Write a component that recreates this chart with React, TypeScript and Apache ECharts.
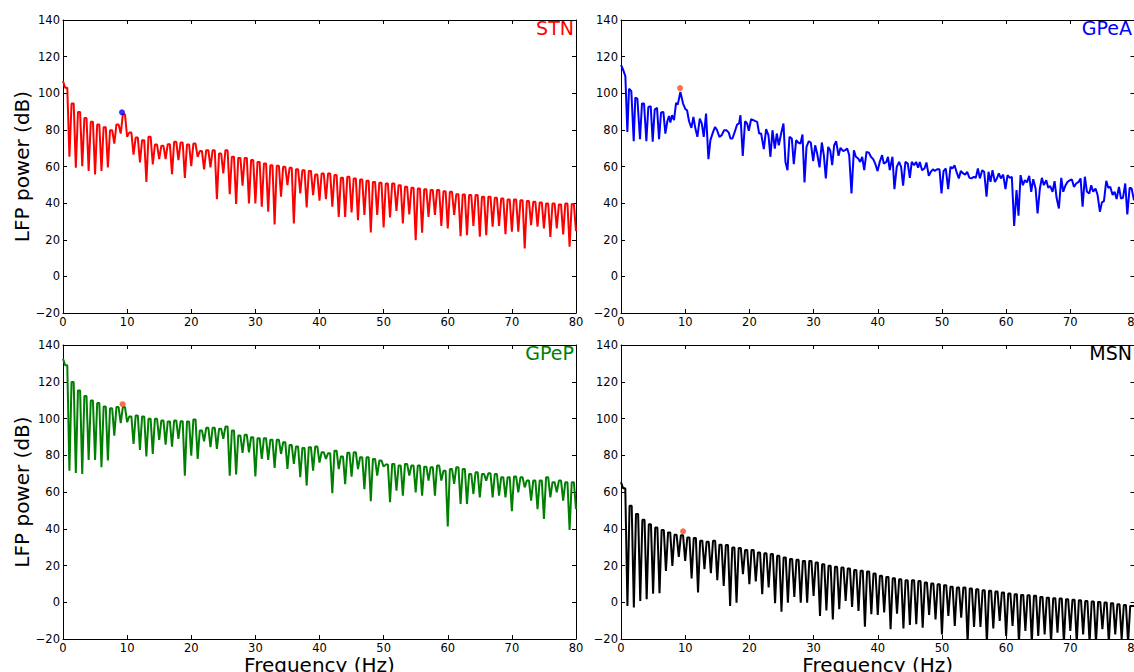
import React, { useEffect, useRef } from "react";
import * as echarts from "echarts";

// ---------- data ----------
// Frequency axis ticks
const freqTicks = [0, 10, 20, 30, 40, 50, 60, 70, 80];
const powerTicks = [-20, 0, 20, 40, 60, 80, 100, 120, 140];

// STN: power at each integer Hz (troughs), and at the in-between samples (crests)
const stnDips = [106.7, 65.3, 59.3, 60.2, 57.6, 55.6, 57.6, 59.5, 72.5, 78, 76.2, 66.5, 62.2, 51.6, 61.1, 64, 64, 55.8, 63.5, 53.8, 60.2,
  65.3, 58.4, 59.5, 42.2, 56.2, 44.9, 39.5, 49.5, 39.8, 39.8, 38, 35.3, 28.4, 43.5, 49.8, 28.9, 45.3, 37.6, 44.4, 41.4,
  42.2, 38, 32.5, 32.5, 34.9, 30.7, 33.5, 24, 33.5, 26.7, 32.2, 35.8, 28.9, 33.8, 19.8, 23.8, 32.5, 33.5, 27.6, 26.2,
  33.5, 22, 22.5, 27.6, 21.6, 22.5, 27.1, 27.6, 23.1, 24.4, 24.4, 15.3, 28, 27.1, 26.2, 21.6, 26.2, 22.9, 16.2, 24.7];
const stnPeaks = [103, 94.4, 89.8, 86.5, 84.4, 82.9, 81.5, 79.8, 83, 88.5, 78.5, 75.8, 74.4, 76.2, 72, 71.3, 72.2, 73.5, 73.1, 72,
  72.5, 68.4, 68.9, 68.9, 67.1, 68.9, 65.3, 64.7, 64.7, 63.5, 62.5, 61.6, 60.7, 60.4, 59.8, 59.3, 58.5, 58, 57.6, 55.6,
  56.2, 56.2, 55.3, 53.8, 54.4, 53.5, 52.9, 52.2, 51.6, 51.1, 50.7, 50.7, 49.8, 48.9, 48.4, 48, 47.6, 47.1, 47.1, 46.5,
  46.2, 44.9, 44.7, 44.4, 44.4, 43.5, 43.5, 42.9, 42.5, 42, 42, 41.6, 41.1, 40.7, 40.4, 39.8, 39.8, 39.3, 39.8, 39.5];

// GPeP
const gpepDips = [132.5, 71.6, 70.4, 69.8, 77.5, 77.5, 73.5, 77.1, 90.7, 97.5, 98, 86.2, 82.9, 79.3, 80.7, 88.4, 85.8, 84.7, 88.9, 68.9, 79.8,
  78, 87.6, 84.4, 83.5, 88.9, 68.9, 69.5, 81.3, 81.6, 68.4, 78, 77.5, 73.1, 80.7, 72.5, 75.3, 68, 63.5, 71.6, 76,
  78, 59.3, 72.5, 64.2, 68.4, 72.5, 61.6, 55, 68.9, 73.8, 54.4, 60.7, 58, 68.9, 59.8, 58, 66.2, 58, 66.2, 41.3,
  64.4, 53.5, 53.5, 58.9, 57.1, 66.2, 57.1, 58, 57.1, 49.5, 59.8, 62.5, 55.3, 50.7, 45.3, 57.1, 59.8, 55.3, 39.3, 50.7];
const gpepPeaks = [129, 119.8, 115.3, 112.2, 109.8, 108.4, 106.5, 105.6, 106.2, 106.2, 101.1, 101.6, 101.1, 99.8, 99.8, 98.9, 98.4, 98.9, 98.5, 98.4,
  99.5, 93.5, 94.9, 94.9, 94.4, 95.6, 93.5, 90.7, 91.1, 89.8, 89.3, 89.3, 88.5, 88.4, 87.1, 85.6, 84.7, 84, 84.4, 84.7,
  81.6, 81.1, 82.5, 79.3, 81.3, 81.6, 78.9, 78.9, 78, 77.1, 74.9, 75.3, 74.4, 75.3, 74.4, 74.4, 73.8, 73.5, 74.4, 71.6,
  72.5, 73.5, 72.5, 69.8, 70.7, 69.8, 70.2, 69.8, 68, 68, 68.4, 68, 66.2, 66.2, 66.2, 68, 65.3, 66.2, 65.3, 65.3];

// MSN
const msnDips = [65.3, -2, -2.9, 0.7, 1.6, 4.7, 4.9, 17.1, 19.8, 24.7, 22.5, 12.9, 5.3, 18, 15.8, 12, 8.9, -2, -0.2, 15.3, 9.8,
  11.3, 4.4, 8, -0.5, -5.1, -0.2, 2.9, -0.2, -0.2, 3.5, -7.5, -4.4, -9.3, -3.8, 0.7, -2.5, -4.7, -13.3, -6.5, -6.9,
  -5.6, -14.7, -6.2, -14.2, -12.4, -12, -13.8, -6.9, -9.3, -17.5, -7.5, -12.9, -8.4, -22, -13.5, -13.5, -22, -14.2, -10.2, -18.4,
  -12.9, -22, -15.6, -22, -18.4, -17.5, -22, -16.5, -22, -15.6, -22, -17.5, -22, -22, -14.7, -22, -17.5, -20.2, -22, -2];
const msnPeaks = [62, 52.5, 48, 44.9, 42.5, 40.7, 39.3, 38, 36.7, 36.5, 35.3, 34.9, 33.5, 32.9, 33.5, 31.3, 31.1, 29.8, 29.5, 28.4,
  28.4, 27.1, 26.7, 26.2, 25.3, 24.4, 23.5, 23.1, 22.5, 22.5, 21.6, 20.7, 19.8, 19.3, 18.9, 18.4, 17.5, 17.1, 16.7, 15.6,
  14.4, 13.8, 13.1, 12.5, 12, 12, 11.6, 10.7, 10.2, 9.8, 9.3, 8.5, 8, 8, 7.5, 7.1, 6.5, 6.2, 5.8, 5.3,
  4.7, 4.4, 4, 3.8, 3.5, 2.9, 2.5, 2.2, 2, 1.6, 1.3, 1.1, 0.7, 0.4, 0.2, -0.2, -0.5, -1.1, -1.5, -2];

// GPeA: irregular spectrum, frequency / power samples
const gpeaFreq = [0, 0.31, 0.68, 0.99, 1.25, 1.61, 1.98, 2.23, 2.55, 2.96, 3.27, 3.59, 3.95, 4.26, 4.63, 4.94, 5.25, 5.61, 5.93, 6.24,
  6.6, 6.91, 7.22, 7.48, 7.69, 7.95, 8.26, 8.58, 8.84, 9.25, 9.67, 10.03, 10.29, 10.6, 10.97, 11.28, 11.59, 11.9, 12.27, 12.58,
  12.89, 13.25, 13.62, 13.93, 14.35, 14.66, 14.97, 15.33, 15.7, 16.06, 16.42, 16.79, 17.05, 17.36, 17.72, 18.09, 18.4, 18.61, 18.97, 19.33,
  19.65, 19.91, 20.27, 20.63, 20.93, 21.21, 21.52, 21.83, 22.25, 22.61, 22.97, 23.28, 23.6, 23.96, 24.27, 24.58, 24.95, 25.31, 25.62, 25.94,
  26.25, 26.61, 26.92, 27.29, 27.6, 27.96, 28.27, 28.59, 28.9, 29.26, 29.57, 29.94, 30.25, 30.56, 30.93, 31.29, 31.6, 31.91, 32.28, 32.59,
  32.9, 33.21, 33.52, 33.89, 34.2, 34.62, 34.93, 35.24, 35.55, 35.91, 36.28, 36.59, 36.95, 37.27, 37.58, 37.89, 38.25, 38.62, 38.93, 39.29,
  39.6, 39.97, 40.31, 40.68, 40.94, 41.35, 41.6, 41.87, 42.29, 42.6, 42.96, 43.33, 43.64, 43.95, 44.31, 44.68, 45.0, 45.3, 45.66, 45.97,
  46.29, 46.55, 46.91, 47.28, 47.59, 47.95, 48.27, 48.58, 48.89, 49.25, 49.62, 49.93, 50.25, 50.6, 50.97, 51.33, 51.64, 51.96, 52.27, 52.63,
  52.94, 53.31, 53.62, 53.93, 54.29, 54.6, 54.97, 55.28, 55.6, 55.91, 56.27, 56.58, 56.95, 57.26, 57.57, 57.88, 58.24, 58.56, 58.87, 59.18,
  59.54, 59.9, 60.22, 60.58, 60.89, 61.25, 61.62, 61.93, 62.25, 62.61, 62.92, 63.24, 63.6, 63.91, 64.22, 64.59, 64.9, 65.26, 65.57, 65.88,
  66.25, 66.56, 66.87, 67.23, 67.55, 67.86, 68.22, 68.59, 68.9, 69.26, 69.57, 69.93, 70.25, 70.56, 70.92, 71.29, 71.6, 71.91, 72.27, 72.59,
  72.95, 73.26, 73.57, 73.93, 74.25, 74.61, 74.92, 75.24, 75.6, 75.91, 76.22, 76.59, 76.9, 77.21, 77.58, 77.89, 78.2, 78.56, 78.88, 79.24,
  79.55, 79.92];
const gpeaPower = [115.5, 113, 109.3, 78.9, 102.5, 101.1, 73.8, 97.6, 97.1, 74.9, 94.4, 94.4, 73.8, 92.5, 92.9, 73.5, 91.1, 92, 74.9, 89.5,
  89.8, 78, 84.7, 87.6, 84, 88, 85.3, 94.7, 93.8, 100.7, 94.4, 91.3, 90.7, 84.7, 81.1, 87.1, 80.7, 76.2, 86.2, 83.5,
  76.2, 88.9, 64, 74.4, 78.9, 81.6, 79.8, 76.2, 77.1, 79.8, 79.8, 78.5, 75.3, 75.3, 78.9, 82.9, 83.5, 88, 65.8, 84.7,
  83.5, 79.5, 85.8, 85.3, 84.8, 84.4, 78, 78, 69.5, 80.4, 77.1, 65.3, 79.8, 69.8, 78, 71.6, 78, 83.5, 62.5, 58,
  76.2, 75.3, 61.3, 74.4, 73.1, 72.5, 77.5, 51.3, 70.7, 73.8, 73.1, 62.9, 71.6, 67.1, 59.5, 73.1, 66.2, 53.5, 70.7, 68.9,
  60.7, 71.6, 73.8, 65.8, 70.2, 68.4, 68.9, 69.8, 66.2, 45.3, 68.9, 65.3, 64.4, 62.5, 65.3, 58, 68, 67.6, 65.3, 64,
  61.6, 57.5, 62.5, 66.2, 61.6, 62.5, 65.3, 58, 65.3, 47.6, 59.8, 62.5, 59.8, 49.5, 62.5, 61.6, 53.8, 62.5, 60.7, 62.5,
  59.3, 62.5, 58, 58.9, 62.2, 54.9, 57.1, 58.5, 57.6, 58.5, 58.5, 45.3, 57.5, 58.9, 47.6, 59.8, 58.9, 60.7, 57.1, 53.5,
  57.5, 56.2, 55.6, 57.1, 53.8, 53.5, 54.4, 53.8, 58.9, 53.5, 58, 57.1, 43.5, 57.1, 51.6, 58, 51.6, 53.5, 56.2, 53.5,
  55.6, 47.6, 55.3, 53.8, 54.4, 27.6, 47.1, 33.1, 55.3, 49.8, 52.5, 51.3, 54.9, 46.2, 53.1, 48, 34.4, 48, 53.8, 49.8,
  52.5, 48.4, 49.3, 46.2, 52, 42.9, 37.1, 53.8, 46.2, 49.8, 51.6, 52.5, 52.9, 48.9, 50.7, 51.6, 53.5, 38, 54.4, 46.2,
  45.3, 49.8, 46.2, 48, 44.4, 35.3, 40.4, 41.1, 52.2, 48.4, 48.9, 44.4, 46.2, 42.2, 48.9, 42.5, 42.9, 50.7, 33.8, 48.4,
  48, 41.6];

// Marked peak (frequency, power) per panel
const stnMarker = [9.2, 89.6];
const gpeaMarker = [9.2, 102.8];
const gpepMarker = [9.3, 107.8];
const msnMarker = [9.67, 38.6];

const panelNames = ["STN", "GPeA", "GPeP", "MSN"];
const panelColors = ["#ff0000", "#0000ff", "#008000", "#000000"];
const markerColors = ["#0000ff", "#ff4a1c", "#ff4a1c", "#ff4a1c"];

// ---------- helpers ----------
function cycleSeries(dips: number[], peaks: number[]) {
  const out: number[][] = [];
  for (let k = 0; k < peaks.length; k++) {
    out.push([k, dips[k]]);
    out.push([k + 1 / 3, peaks[k]]);
    out.push([k + 2 / 3, peaks[k]]);
  }
  out.push([peaks.length, dips[peaks.length]]);
  return out;
}

const FONT = "DejaVu Sans";
const fmtY = (v: number) => (v < 0 ? "\u2212" + Math.abs(v) : String(v));

export default function App() {
  const ref = useRef<HTMLDivElement>(null);
  useEffect(() => {
    if (!ref.current) return;
    const chart = echarts.init(ref.current, null, { renderer: "svg" });

    const grids = [
      { left: 63, top: 20, width: 513, height: 293, outerBoundsMode: "none", containLabel: false },
      { left: 621, top: 20, width: 513.5, height: 293, outerBoundsMode: "none", containLabel: false },
      { left: 63, top: 345, width: 513, height: 294, outerBoundsMode: "none", containLabel: false },
      { left: 621, top: 345, width: 513.5, height: 294, outerBoundsMode: "none", containLabel: false },
    ];

    const xAxes: any[] = [];
    const yAxes: any[] = [];
    const tickStyle = { show: true, inside: true, length: 4, lineStyle: { color: "#000", width: 1 } };
    const lineStyle = { show: true, onZero: false, lineStyle: { color: "#000", width: 1 } };
    grids.forEach((g, i) => {
      const isBottom = i >= 2;
      const isLeft = i % 2 === 0;
      xAxes.push({
        gridIndex: i, type: "value", position: "bottom",
        min: freqTicks[0], max: freqTicks[freqTicks.length - 1], interval: 10,
        axisLine: lineStyle, axisTick: tickStyle, splitLine: { show: false },
        axisLabel: { color: "#000", fontSize: 11.5, fontFamily: FONT, margin: 3, showMinLabel: true, showMaxLabel: true },
        name: isBottom ? "Frequency (Hz)" : "", nameLocation: "middle", nameGap: 14,
        nameTextStyle: { color: "#000", fontSize: 20, fontFamily: FONT, verticalAlign: "top" },
      });
      xAxes.push({
        gridIndex: i, type: "value", position: "top",
        min: freqTicks[0], max: freqTicks[freqTicks.length - 1], interval: 10,
        axisLine: lineStyle, axisTick: tickStyle, splitLine: { show: false }, axisLabel: { show: false },
      });
      yAxes.push({
        gridIndex: i, type: "value", position: "left",
        min: powerTicks[0], max: powerTicks[powerTicks.length - 1], interval: 20,
        axisLine: lineStyle, axisTick: tickStyle, splitLine: { show: false },
        axisLabel: { color: "#000", fontSize: 11.5, fontFamily: FONT, margin: 3, formatter: fmtY, showMinLabel: true, showMaxLabel: true },
        name: isLeft ? "LFP power (dB)" : "", nameLocation: "middle", nameGap: 30, nameRotate: 90,
        nameTextStyle: { color: "#000", fontSize: 20, fontFamily: FONT },
      });
      yAxes.push({
        gridIndex: i, type: "value", position: "right",
        min: powerTicks[0], max: powerTicks[powerTicks.length - 1], interval: 20,
        axisLine: lineStyle, axisTick: tickStyle, splitLine: { show: false }, axisLabel: { show: false },
      });
    });

    const lines = [
      cycleSeries(stnDips, stnPeaks),
      gpeaFreq.map((f, i) => [f, gpeaPower[i]]),
      cycleSeries(gpepDips, gpepPeaks),
      cycleSeries(msnDips, msnPeaks),
    ];
    const markers = [stnMarker, gpeaMarker, gpepMarker, msnMarker];

    const series: any[] = [];
    lines.forEach((d, i) => {
      series.push({
        type: "line", xAxisIndex: i * 2, yAxisIndex: i * 2, data: d,
        showSymbol: false, symbol: "none", clip: true,
        lineStyle: { color: panelColors[i], width: 2 }, itemStyle: { color: panelColors[i] },
        z: 2,
      });
      series.push({
        type: "scatter", xAxisIndex: i * 2, yAxisIndex: i * 2, data: [markers[i]],
        symbol: "circle", symbolSize: 6, itemStyle: { color: markerColors[i] }, z: 3,
      });
    });

    const titles = panelNames.map((name, i) => ({
      text: name,
      right: i % 2 === 0 ? 1134 - 574 : 2,
      top: i < 2 ? 18.5 : 343.5,
      padding: 0,
      textStyle: { color: panelColors[i], fontSize: 19, fontWeight: "normal", fontFamily: FONT },
    }));

    chart.setOption({
      animation: false,
      backgroundColor: "#ffffff",
      title: titles,
      grid: grids,
      xAxis: xAxes,
      yAxis: yAxes,
      series,
    });
    return () => chart.dispose();
  }, []);

  return (
    <div style={{ position: "fixed", left: 0, top: 0, width: 1134, height: 672, overflow: "hidden", background: "#fff" }}>
      <div ref={ref} style={{ width: 1134, height: 672 }} />
    </div>
  );
}
